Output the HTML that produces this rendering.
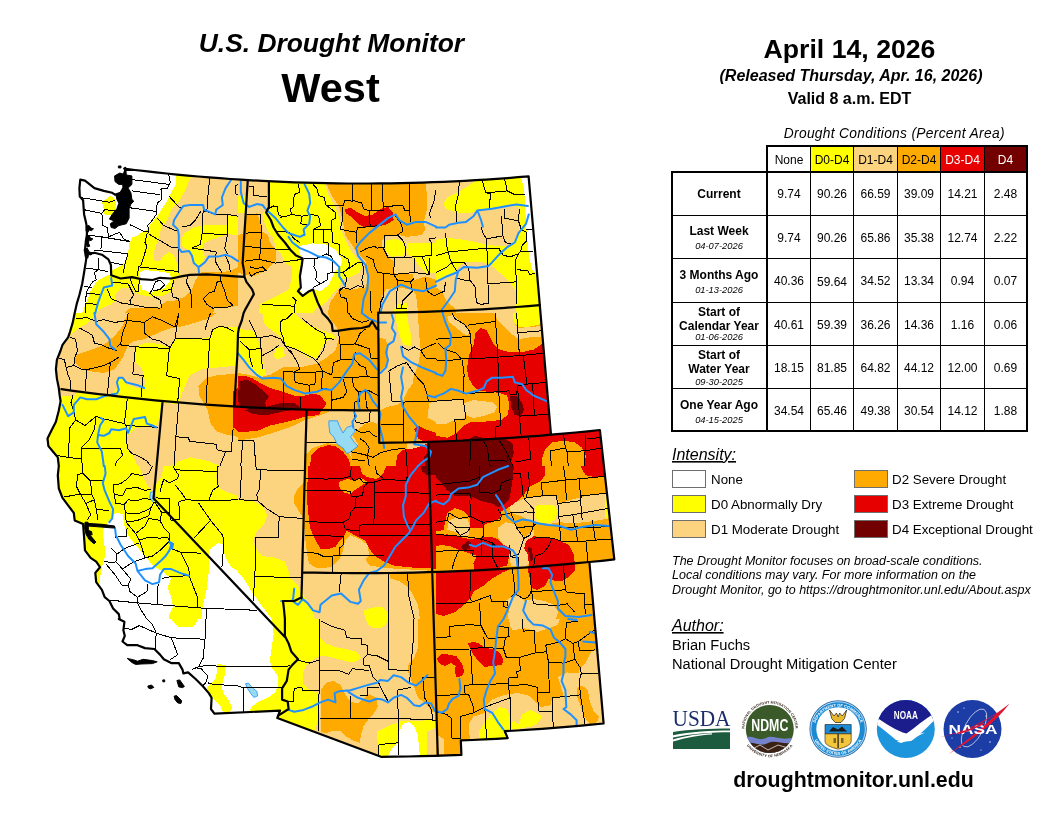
<!DOCTYPE html>
<html lang="en"><head><meta charset="utf-8"><title>U.S. Drought Monitor - West</title>
<style>
html,body{margin:0;padding:0;background:#fff;}
body{width:1056px;height:816px;overflow:hidden;font-family:"Liberation Sans",Arial,sans-serif;}
svg{display:block;position:absolute;left:0;top:0;}
</style></head><body>
<svg width="1056" height="816" viewBox="0 0 1056 816">
<rect width="1056" height="816" fill="#fff"/>
<g id="map">
<defs><clipPath id="land"><path d="M124.2 168.7L134.8 170.0L145.4 171.2L156.0 172.4L166.6 173.5L177.2 174.6L187.8 175.6L198.5 176.5L209.1 177.4L219.7 178.2L230.4 179.0L241.0 179.7L251.7 180.3L262.3 180.9L273.0 181.4L283.6 181.9L294.3 182.3L304.9 182.6L315.6 182.9L326.2 183.2L336.9 183.3L347.6 183.5L358.2 183.5L368.9 183.5L379.6 183.4L390.2 183.3L400.9 183.1L411.5 182.9L422.2 182.6L432.9 182.2L443.5 181.8L454.2 181.3L464.8 180.8L475.5 180.2L486.1 179.6L496.7 178.8L507.4 178.1L518.0 177.2L528.6 176.3L528.6 176.3L530.0 192.4L531.4 208.4L532.8 224.5L534.2 240.6L535.6 256.7L537.0 272.8L538.4 288.9L539.8 305.1L541.2 321.3L542.6 337.5L544.0 353.7L545.4 369.9L546.8 386.1L548.2 402.3L549.6 418.5L551.0 434.7L551.0 434.7L563.2 433.6L575.4 432.5L587.7 431.3L599.9 430.0L599.9 430.0L601.7 446.1L603.5 462.3L605.3 478.5L607.1 494.7L608.9 510.9L610.7 527.1L612.5 543.3L614.3 559.4L614.3 559.4L601.8 560.8L589.4 562.0L589.4 562.0L590.8 578.2L592.3 594.4L593.7 610.6L595.1 626.8L596.6 642.9L598.0 659.1L599.4 675.2L600.8 691.3L602.2 707.4L603.6 723.5L603.6 723.5L591.3 724.7L578.9 725.8L566.6 726.9L554.2 727.9L541.9 728.8L529.5 729.7L517.1 730.5L504.8 731.2L507.7 738.1L507.7 738.1L496.0 738.8L484.2 739.4L472.5 740.0L460.8 740.4L460.8 740.4L461.4 754.9L461.4 754.9L448.0 755.4L434.6 755.9L421.2 756.2L407.8 756.5L394.4 756.7L381.0 756.8L277.3 718.0L280.0 710.6L214.4 713.7L211.0 709.0L211.6 697.8L208.8 693.1L203.1 686.5L195.6 679.0L188.1 672.4L183.4 673.4L182.5 669.6L178.8 663.1L171.2 663.1L163.8 659.3L160.0 654.6L154.4 649.0L145.0 648.1L137.5 645.2L127.2 645.2L122.5 641.5L124.8 635.9L123.4 630.2L124.4 621.8L118.8 619.0L119.7 619.0L118.8 614.1L113.1 608.5L109.4 601.0L104.7 597.2L101.9 589.8L96.2 582.2L95.3 572.9L100.0 567.2L96.2 561.6L90.6 557.9L85.0 550.4L84.1 537.2L83.1 524.1L74.7 520.4L73.8 512.9L68.1 505.4L62.5 497.9L58.8 488.5L57.8 475.4L58.8 466.0L58.8 466.0L57.8 457.4L53.1 451.8L48.4 446.1L47.5 438.6L51.2 431.1L55.9 421.8L58.8 410.5L60.6 401.1L59.7 395.5L58.8 388.0L56.9 378.6L55.9 369.2L56.9 359.9L60.6 350.5L62.5 344.9L68.1 337.4L70.0 331.8L72.8 322.4L74.7 313.0L74.7 313.0L76.6 304.4L79.4 295.0L82.2 283.8L84.1 272.5L85.9 261.2L86.9 253.8L85.0 250.0L85.9 240.6L86.9 235.0L86.9 227.5L85.9 221.9L84.1 214.4L83.1 200.3L79.8 196.6L79.4 188.1L80.3 179.7L85.0 180.6L94.4 188.1L103.8 190.9L112.2 192.8L115.0 194.7L120.6 192.8L123.4 188.1L125.3 178.8L125.3 167.9Z"/></clipPath>
<clipPath id="t0"><rect x="40" y="160" width="198" height="153"/></clipPath>
<clipPath id="t1"><rect x="238" y="160" width="198" height="153"/></clipPath>
<clipPath id="t2"><rect x="436" y="160" width="198" height="153"/></clipPath>
<clipPath id="t3"><rect x="40" y="313" width="198" height="153"/></clipPath>
<clipPath id="t4"><rect x="238" y="313" width="198" height="153"/></clipPath>
<clipPath id="t5"><rect x="436" y="313" width="198" height="153"/></clipPath>
<clipPath id="t6"><rect x="40" y="466" width="198" height="153"/></clipPath>
<clipPath id="t7"><rect x="238" y="466" width="198" height="153"/></clipPath>
<clipPath id="t8"><rect x="436" y="466" width="198" height="153"/></clipPath>
<clipPath id="t9"><rect x="40" y="619" width="198" height="153"/></clipPath>
<clipPath id="t10"><rect x="238" y="619" width="198" height="153"/></clipPath>
<clipPath id="t11"><rect x="436" y="619" width="198" height="153"/></clipPath>
</defs>
<g clip-path="url(#land)" shape-rendering="crispEdges">
<g clip-path="url(#t0)">
<rect x="40" y="160" width="198" height="153" fill="#fcd37f"/>
<path d="M40.0 160.0L190.9 160.0L190.9 176.9L184.4 191.9L179.7 200.3L171.2 209.7L167.5 220.0L160.9 228.4L160.0 235.0L156.2 244.4L153.4 253.8L154.4 260.3L160.0 261.2L163.8 255.6L169.4 251.9L174.1 255.6L177.8 265.0L178.8 274.4L174.1 280.0L172.2 291.2L161.9 295.9L152.5 296.9L141.2 295.0L133.8 291.2L129.1 287.5L120.6 288.4L115.0 295.0L115.9 300.6L111.2 304.4L101.9 308.1L96.2 313.0L40.0 313.0Z" fill="#ffff00"/>
<path d="M184.4 233.1L193.8 227.5L201.2 225.6L227.5 224.7L228.4 233.1L220.0 236.9L208.8 240.6L203.1 244.4L202.2 250.0L205.0 257.5L201.2 265.0L195.6 265.0L191.9 257.5L188.1 250.0L182.5 246.2L181.6 238.8Z" fill="#ffff00"/>
<path d="M228.4 216.2L238.0 214.4L238.0 235.0L227.5 234.1Z" fill="#ffff00"/>
<path d="M40.0 160.0L175.9 160.0L175.9 184.4L171.2 192.8L167.5 200.3L161.9 208.8L157.2 216.2L150.6 223.8L146.9 229.4L139.4 234.1L131.9 237.8L129.1 243.4L128.1 253.8L125.3 262.2L118.8 266.9L112.2 270.6L110.3 274.4L105.6 276.2L96.2 281.9L90.6 291.2L86.9 300.6L82.2 313.0L40.0 313.0Z" fill="#ffffff"/>
<path d="M139.4 272.5L145.0 270.2L156.2 271.0L169.4 273.1L171.2 277.2L169.4 281.9L163.8 288.4L156.2 291.2L148.8 292.2L142.2 289.4L139.4 281.9Z" fill="#ffffff"/>
<path d="M110.3 195.6L115.9 200.3L115.9 214.4L104.7 214.8L103.8 208.8L101.9 202.2Z" fill="#ffff00"/>
<path d="M238.0 266.9L231.2 270.6L220.0 272.5L208.8 271.6L201.2 272.5L195.6 280.0L191.9 289.4L184.4 296.9L175.0 300.6L167.5 300.6L161.9 304.4L160.0 308.1L145.0 308.1L130.0 308.1L124.4 313.0L238.0 313.0Z" fill="#ffaa00"/>
<path d="M214.4 308.1L238.0 306.2L238.0 313.0L213.4 313.0Z" fill="#fcd37f"/>
</g>
<g clip-path="url(#t1)">
<rect x="238" y="160" width="198" height="153" fill="#fcd37f"/>
<path d="M268.9 178.8L323.3 178.8L328.0 193.8L335.5 206.9L340.2 221.9L343.0 235.0L350.5 250.0L358.0 259.4L361.8 265.0L359.9 272.5L352.4 276.2L343.0 280.0L337.4 289.4L331.8 295.0L326.1 302.5L316.8 308.1L313.0 313.0L258.6 313.0L260.5 304.4L275.5 296.9L288.6 289.4L291.4 280.0L292.4 266.9L284.9 263.1L281.1 253.8L275.5 248.1L273.6 238.8L268.0 231.2L264.2 221.9L262.4 214.4L266.1 210.6L268.9 205.0Z" fill="#ffff00"/>
<path d="M238.0 195.6L246.4 195.6L247.4 212.5L238.0 212.5Z" fill="#ffff00"/>
<path d="M386.1 240.6L395.5 238.8L404.9 242.5L406.8 250.0L403.0 255.6L391.8 256.6L386.1 251.9Z" fill="#ffff00"/>
<path d="M406.8 243.4L436.0 242.5L436.0 272.5L425.5 272.5L418.0 265.0L414.2 257.5L406.8 253.8Z" fill="#ffff00"/>
<path d="M395.5 304.4L406.8 302.5L408.6 313.0L393.6 313.0Z" fill="#ffff00"/>
<path d="M298.0 246.2L313.0 243.4L326.1 244.4L335.5 250.0L342.1 259.4L341.1 265.0L335.5 270.6L331.8 278.1L328.0 285.6L320.5 291.2L313.0 289.4L307.4 293.1L302.7 294.1L298.9 289.4L300.8 276.2L302.7 261.2L299.9 253.8Z" fill="#ffffff"/>
<path d="M238.0 235.0L244.6 233.1L246.4 214.4L256.8 213.4L260.5 221.9L261.4 231.2L268.0 235.0L269.9 242.5L275.5 250.0L275.5 261.2L266.1 270.6L253.0 276.2L243.6 274.4L238.0 272.5Z" fill="#ffaa00"/>
<path d="M326.1 183.4L425.5 183.4L427.4 197.5L426.4 212.5L423.6 221.9L425.5 229.4L421.8 235.0L406.8 236.9L399.2 235.0L388.0 235.0L382.4 240.6L382.4 248.1L388.0 257.5L393.6 261.2L394.6 273.6L412.4 273.6L414.2 280.0L425.5 276.2L436.0 280.0L436.0 313.0L418.0 313.0L416.1 295.0L412.4 289.4L397.4 287.5L386.1 289.4L382.4 295.0L380.5 313.0L328.0 313.0L329.9 302.5L335.5 295.0L339.2 289.4L350.5 289.4L365.5 287.5L369.2 274.4L367.4 272.5L365.5 261.2L358.0 253.8L350.5 242.5L344.9 235.0L343.0 221.9L339.2 206.9L331.8 195.6Z" fill="#ffaa00"/>
<path d="M344.9 209.7L350.5 207.8L358.0 212.5L365.5 216.2L373.0 214.4L380.5 208.8L388.0 206.9L392.7 212.5L393.6 220.0L386.1 224.7L376.8 226.6L365.5 227.5L358.0 223.8L350.5 216.2L345.8 213.4Z" fill="#e60000"/>
</g>
<g clip-path="url(#t2)">
<rect x="436" y="160" width="198" height="153" fill="#fcd37f"/>
<path d="M443.5 203.1L447.2 197.5L458.5 191.9L473.5 182.5L482.9 178.8L527.9 175.9L529.8 206.9L522.2 206.9L507.2 205.9L492.2 208.8L477.2 210.6L469.8 213.4L456.6 212.5L445.4 208.8Z" fill="#ffff00"/>
<path d="M436.0 239.7L447.2 237.8L464.1 239.7L486.6 244.4L501.6 246.6L511.0 245.3L518.5 233.1L520.4 221.9L519.4 206.9L529.8 206.9L541.0 313.0L516.6 313.0L515.7 291.2L511.0 283.8L501.6 274.4L492.2 265.9L482.9 262.2L464.1 262.2L456.6 268.8L451.0 276.2L436.0 280.0Z" fill="#ffff00"/>
<path d="M520.8 176.5L528.2 175.9L536.3 274.4L531.6 268.8L528.8 253.8L526.9 235.0L525.6 216.2L524.1 188.1Z" fill="#ffffff"/>
<path d="M436.0 287.5L441.6 291.2L447.2 302.5L454.8 308.1L456.6 313.0L436.0 313.0Z" fill="#ffaa00"/>
</g>
<g clip-path="url(#t3)">
<rect x="40" y="313" width="198" height="153" fill="#ffff00"/>
<path d="M68.1 337.4L77.5 328.9L86.9 323.3L93.4 316.8L96.2 313.0L238.0 313.0L238.0 327.1L227.5 326.5L214.4 328.0L209.7 337.4L190.0 339.2L175.0 338.9L169.4 347.7L160.0 343.9L145.0 342.6L135.6 346.8L133.8 359.9L142.2 369.2L145.0 380.5L144.1 388.0L137.5 388.0L126.2 384.2L122.5 377.7L116.9 378.6L116.9 388.0L113.1 392.7L107.5 394.6L77.5 391.8L74.7 395.5L60.6 396.4L58.8 389.9L55.0 378.6L56.9 359.9L60.6 346.8Z" fill="#fcd37f"/>
<path d="M161.9 403.0L178.8 403.9L182.5 391.8L190.0 374.9L201.2 369.2L238.0 365.5L238.0 466.0L220.0 466.0L208.8 461.1L190.0 457.4L178.8 461.1L171.2 466.0L137.5 466.0L133.8 457.4L128.1 448.0L127.2 436.8L133.8 429.2L145.0 425.5L156.2 425.5L160.0 418.0Z" fill="#fcd37f"/>
<path d="M128.1 313.0L216.2 313.0L208.8 318.6L190.0 324.2L178.8 327.1L171.2 328.0L160.0 331.8L152.5 335.5L145.0 339.2L133.8 341.1L128.1 344.9L122.5 358.0L115.0 369.2L103.8 373.0L88.8 371.1L79.4 367.4L73.8 361.8L77.5 354.2L94.4 348.6L103.8 344.9L115.0 335.5L122.5 326.1Z" fill="#ffaa00"/>
<path d="M206.9 377.7L218.1 374.9L238.0 373.9L238.0 436.8L227.5 434.9L216.2 431.1L210.6 423.6L207.8 410.5L199.4 395.5L198.4 386.1Z" fill="#ffaa00"/>
<path d="M233.1 391.8L238.0 388.0L238.0 431.1L233.1 427.4Z" fill="#e60000"/>
</g>
<g clip-path="url(#t4)">
<rect x="238" y="313" width="198" height="153" fill="#fcd37f"/>
<path d="M238.0 328.9L254.9 330.8L258.6 341.1L262.4 361.8L266.1 374.9L258.6 376.8L249.2 365.5L238.0 356.1Z" fill="#ffff00"/>
<path d="M262.4 313.0L294.2 313.0L299.9 318.6L307.4 324.2L320.5 329.9L331.8 333.6L335.5 337.4L326.1 341.1L320.5 350.5L316.8 358.0L309.2 358.0L298.0 350.5L286.8 346.8L281.1 337.4L273.6 331.8L264.2 324.2Z" fill="#ffff00"/>
<path d="M275.5 348.6L283.0 346.8L284.9 356.1L277.4 359.9L273.6 356.1Z" fill="#ffff00"/>
<path d="M395.5 313.0L406.8 313.0L408.6 324.2L411.4 337.4L410.5 345.8L403.0 344.9L399.2 333.6L396.4 322.4Z" fill="#ffff00"/>
<path d="M328.0 313.0L376.8 313.0L377.7 337.4L386.1 339.2L388.0 350.5L386.1 365.5L378.6 373.0L377.7 393.6L377.7 410.5L331.8 410.5L320.5 415.2L305.5 419.9L294.2 425.5L275.5 432.1L256.8 437.7L238.0 440.5L238.0 373.0L249.2 374.9L258.6 377.7L269.9 374.9L283.0 367.4L299.9 367.4L316.8 363.6L326.1 358.0L335.5 350.5L339.2 337.4L337.4 328.0L329.9 318.6Z" fill="#ffaa00"/>
<path d="M378.6 442.4L378.6 425.5L373.0 421.8L365.5 423.6L358.0 429.2L352.4 434.9L358.0 444.2L350.5 451.8L354.2 466.0L406.8 466.0L406.8 442.4Z" fill="#ffaa00"/>
<path d="M303.6 466.0L304.6 455.5L313.0 448.0L326.1 443.3L337.4 444.2L346.8 449.9L352.4 459.2L354.2 466.0Z" fill="#ffaa00"/>
<path d="M418.0 313.0L436.0 313.0L436.0 401.1L429.2 403.0L427.4 418.0L436.0 421.8L436.0 442.4L379.9 442.4L379.9 410.5L388.0 406.8L397.4 404.9L403.0 401.1L406.8 391.8L412.4 384.2L414.2 374.9L418.0 365.5L420.8 350.5L418.9 331.8Z" fill="#ffaa00"/>
<path d="M238.0 375.8L245.5 375.8L253.0 378.6L260.5 383.3L269.9 388.0L283.0 391.8L294.2 395.5L301.8 396.4L313.0 393.6L320.5 395.5L326.1 403.0L325.2 406.8L321.4 410.5L318.6 415.2L307.4 416.1L294.2 419.9L283.0 422.7L269.9 425.5L256.8 431.1L238.0 432.1Z" fill="#e60000"/>
<path d="M238.9 381.4L247.4 379.6L256.8 385.2L264.2 391.8L268.9 396.4L265.2 402.1L266.1 406.8L249.2 407.7L239.9 405.8L238.0 401.1Z" fill="#730000"/>
<path d="M266.1 406.8L283.0 402.6L294.2 403.0L299.9 406.8L300.8 409.6L284.9 410.9L275.5 413.3L266.1 415.2L253.0 414.2L245.5 410.5L249.2 407.7Z" fill="#730000"/>
<path d="M311.1 455.5L318.6 448.0L328.0 445.2L335.5 446.1L343.0 451.8L348.6 459.2L350.5 466.0L310.2 466.0Z" fill="#e60000"/>
<path d="M395.5 466.0L397.4 455.5L403.0 449.9L416.1 448.0L425.5 444.2L436.0 442.4L436.0 466.0Z" fill="#e60000"/>
<path d="M414.2 429.2L418.0 425.5L425.5 429.2L436.0 433.0L436.0 442.4L425.5 442.4L418.0 438.6Z" fill="#e60000"/>
<path d="M429.2 442.4L436.0 442.4L436.0 466.0L425.5 466.0L423.6 457.4L429.2 451.8Z" fill="#730000"/>
</g>
<g clip-path="url(#t5)">
<rect x="436" y="313" width="198" height="153" fill="#ffaa00"/>
<path d="M447.2 316.8L452.9 314.9L460.4 322.4L467.9 328.0L470.7 333.6L466.0 335.5L456.6 328.0L449.1 322.4Z" fill="#fcd37f"/>
<path d="M494.1 313.0L512.9 313.0L514.8 324.2L518.5 328.0L541.0 326.1L541.0 337.4L529.8 337.4L518.5 339.2L511.0 333.6L503.5 326.1L497.9 320.5Z" fill="#fcd37f"/>
<path d="M512.9 313.0L540.1 313.0L540.1 324.2L527.9 327.1L518.5 327.1L513.8 322.4Z" fill="#ffff00"/>
<path d="M436.0 400.2L464.1 399.2L466.0 418.0L454.8 419.9L447.2 423.6L436.0 423.6Z" fill="#fcd37f"/>
<path d="M464.1 403.0L473.5 400.2L492.2 402.1L496.9 406.8L494.1 412.4L482.9 416.1L473.5 418.0L466.0 415.2Z" fill="#fcd37f"/>
<path d="M480.1 328.0L486.6 329.9L490.4 337.4L494.1 344.9L499.8 349.6L511.0 352.4L520.4 352.4L533.5 349.6L543.8 343.0L552.2 429.2L601.0 429.2L606.6 466.0L584.1 466.0L586.0 455.5L582.2 448.0L574.8 442.4L563.5 440.5L552.2 442.4L544.8 449.9L541.9 459.2L541.9 466.0L436.0 466.0L436.0 435.8L447.2 437.7L456.6 433.0L464.1 425.5L471.6 421.8L482.9 421.8L501.6 419.9L508.2 414.2L509.1 403.0L507.2 395.5L497.9 392.7L479.1 390.8L473.5 386.1L468.8 378.6L466.9 369.2L468.8 356.1L473.5 344.9L475.4 333.6Z" fill="#e60000"/>
<path d="M510.1 396.4L516.6 395.5L522.2 403.0L524.1 410.5L520.4 416.1L514.8 415.2L511.0 406.8Z" fill="#730000"/>
<path d="M436.0 442.4L454.8 440.5L469.8 438.6L475.4 435.8L482.9 437.7L496.0 438.6L507.2 439.6L512.9 444.2L513.8 453.6L511.0 461.1L512.9 466.0L436.0 466.0Z" fill="#730000"/>
</g>
<g clip-path="url(#t6)">
<rect x="40" y="466" width="198" height="153" fill="#ffff00"/>
<path d="M115.0 512.9L122.5 513.8L124.4 526.0L128.1 535.4L133.8 542.9L145.0 556.0L152.5 565.4L161.9 571.0L171.2 578.5L167.5 587.9L171.2 597.2L173.1 606.6L169.4 614.1L169.4 619.0L96.2 619.0L98.1 597.2L100.0 578.5L101.9 567.2L105.6 554.1L103.8 541.0L102.8 529.8L109.4 520.4Z" fill="#ffffff"/>
<path d="M208.8 550.4L218.1 542.9L223.8 544.8L224.7 556.0L231.2 567.2L238.0 571.0L238.0 619.0L201.2 619.0L203.1 604.8L206.9 587.9L208.8 571.0Z" fill="#ffffff"/>
<path d="M139.4 466.0L163.8 466.0L161.9 475.4L156.2 484.8L152.5 492.2L146.9 484.8L142.2 475.4Z" fill="#fcd37f"/>
<path d="M218.1 466.0L238.0 466.0L238.0 496.0L227.5 492.2L220.0 488.5L216.2 477.2Z" fill="#fcd37f"/>
</g>
<g clip-path="url(#t7)">
<rect x="238" y="466" width="198" height="153" fill="#fcd37f"/>
<path d="M238.0 499.8L253.0 500.7L262.4 506.3L267.1 514.8L264.2 524.1L256.8 531.6L253.0 541.0L255.8 548.5L262.4 556.0L275.5 557.9L284.9 561.6L288.6 571.0L290.5 578.5L298.0 586.0L303.6 595.4L313.0 612.2L314.9 619.0L268.0 619.0L256.8 601.0L249.2 589.8L238.0 586.0Z" fill="#ffff00"/>
<path d="M238.0 572.9L243.6 578.5L253.0 593.5L262.4 606.6L271.8 619.0L238.0 619.0Z" fill="#ffffff"/>
<path d="M363.6 610.4L373.0 607.6L382.4 606.6L388.0 612.2L388.0 619.0L365.5 619.0Z" fill="#ffff00"/>
<path d="M296.1 466.0L303.6 466.0L303.6 482.9L298.0 488.5L294.2 496.0L294.2 503.5L299.9 512.9L303.6 518.5L304.6 529.8L305.5 541.0L307.4 556.0L309.2 563.5L316.8 568.2L331.8 567.2L339.2 559.8L343.0 550.4L344.9 541.0L350.5 535.4L359.9 539.1L367.4 544.8L369.2 554.1L365.5 559.8L369.2 565.4L380.5 567.2L388.0 568.2L436.0 571.0L436.0 466.0Z" fill="#ffaa00"/>
<path d="M388.9 572.9L436.0 572.9L436.0 619.0L419.9 619.0L418.0 604.8L412.4 593.5L406.8 586.0L399.2 581.3L390.8 578.5Z" fill="#ffaa00"/>
<path d="M308.3 466.0L436.0 466.0L436.0 568.8L406.8 567.2L393.6 565.4L384.2 561.6L374.9 556.0L369.2 548.5L365.5 541.0L358.0 537.2L346.8 530.7L343.0 537.2L339.2 541.0L335.5 546.6L328.0 549.4L320.5 548.5L316.8 542.9L313.0 535.4L310.2 527.9L309.2 522.2L307.4 503.5L307.4 484.8Z" fill="#e60000"/>
<path d="M359.9 466.0L386.1 466.0L383.3 473.5L376.8 479.1L367.4 477.2L361.8 473.5Z" fill="#ffaa00"/>
<path d="M339.2 481.9L346.8 479.1L354.2 480.1L361.8 478.2L367.4 481.9L359.9 486.6L354.2 490.4L350.5 494.1L343.0 492.2L339.2 486.6Z" fill="#ffaa00"/>
<path d="M420.8 466.0L436.0 466.0L436.0 475.4L427.4 475.4L421.8 471.6Z" fill="#730000"/>
</g>
<g clip-path="url(#t8)">
<rect x="436" y="466" width="198" height="153" fill="#ffaa00"/>
<path d="M524.1 498.8L533.5 496.9L556.0 496.0L559.8 503.5L571.0 499.8L582.2 496.9L595.4 494.1L604.8 494.1L608.5 518.5L597.2 520.4L586.0 522.2L571.0 523.2L559.8 522.2L548.5 524.1L537.2 522.2L529.8 520.4L522.2 516.6L511.0 512.9L509.1 507.2L516.6 501.6Z" fill="#fcd37f"/>
<path d="M535.4 506.3L541.0 504.4L554.1 505.4L557.9 511.0L556.0 518.5L550.4 523.2L541.0 523.2L535.4 518.5Z" fill="#ffff00"/>
<path d="M604.8 494.1L607.6 494.1L609.4 518.5L604.8 517.6Z" fill="#ffff00"/>
<path d="M497.9 527.9L505.4 522.2L514.8 524.1L520.4 531.6L524.1 537.2L529.8 533.5L533.5 529.8L533.5 537.2L526.0 541.0L524.1 548.5L527.9 554.1L528.8 563.5L524.1 568.2L518.5 567.2L511.0 565.4L509.1 556.0L511.0 548.5L503.5 544.8L497.9 537.2Z" fill="#fcd37f"/>
<path d="M449.1 520.4L456.6 517.6L467.9 519.4L469.8 526.0L468.8 535.4L462.2 537.2L454.8 531.6L447.2 529.8Z" fill="#fcd37f"/>
<path d="M505.4 601.0L511.0 597.2L518.5 595.4L524.1 601.0L533.5 599.1L544.8 601.0L554.1 604.8L557.9 612.2L556.0 619.0L507.2 619.0L509.1 610.4Z" fill="#fcd37f"/>
<path d="M436.0 466.0L544.8 466.0L544.8 475.4L541.0 481.0L529.8 486.6L524.1 494.1L516.6 501.6L509.1 507.2L501.6 511.0L499.8 518.5L492.2 522.2L484.8 524.1L482.9 527.9L469.8 527.9L469.8 518.5L464.1 511.0L454.8 508.2L447.2 512.9L445.4 520.4L443.5 529.8L436.0 531.6Z" fill="#e60000"/>
<path d="M580.4 466.0L605.7 466.0L605.7 477.2L595.4 477.2L586.0 475.4L582.2 469.8Z" fill="#e60000"/>
<path d="M436.0 535.4L447.2 534.4L460.4 537.2L469.8 539.1L482.9 537.2L492.2 537.2L497.9 539.1L503.5 544.8L511.0 548.5L509.1 556.0L507.2 565.4L497.9 568.2L473.5 570.1L473.5 563.5L477.2 556.0L471.6 554.1L460.4 550.4L451.0 546.6L441.6 544.8L436.0 546.6Z" fill="#e60000"/>
<path d="M526.0 541.0L533.5 536.3L544.8 537.2L552.2 538.2L559.8 541.0L569.1 544.8L573.8 554.1L574.8 563.5L574.8 571.0L569.1 576.6L563.5 580.4L556.0 581.3L548.5 578.5L544.8 586.0L537.2 589.8L531.6 587.9L529.8 578.5L527.9 571.0L528.8 563.5L527.9 554.1L524.1 548.5Z" fill="#e60000"/>
<path d="M436.0 571.0L473.5 570.1L497.9 568.2L511.0 568.8L501.6 572.9L492.2 578.5L482.9 586.0L473.5 591.6L469.8 599.1L464.1 604.8L454.8 612.2L443.5 616.0L436.0 614.1Z" fill="#e60000"/>
<path d="M436.0 466.0L513.8 466.0L512.9 477.2L511.0 490.4L509.1 499.8L503.5 505.4L497.9 507.2L492.2 503.5L482.9 501.6L469.8 496.0L454.8 496.0L447.2 490.4L439.8 481.0L436.0 477.2Z" fill="#730000"/>
<path d="M460.4 546.6L467.9 541.0L471.6 542.9L469.8 548.5L464.1 550.4Z" fill="#730000"/>
<path d="M527.9 546.6L531.6 548.5L533.5 559.8L530.7 561.6L528.8 554.1Z" fill="#730000"/>
</g>
<g clip-path="url(#t9)">
<rect x="40" y="619" width="198" height="153" fill="#ffffff"/>
<path d="M171.2 619.0L197.5 619.0L195.6 624.6L191.9 627.4L178.8 627.4L174.1 622.8Z" fill="#ffff00"/>
<path d="M217.2 664.0L225.6 664.9L224.7 675.2L221.9 684.6L222.8 692.1L229.4 701.5L232.2 707.1L230.3 711.8L222.8 711.8L220.0 705.2L214.4 699.6L209.7 694.0L206.9 687.4L210.6 683.7L215.3 679.0L217.2 671.5Z" fill="#ffff00"/>
</g>
<g clip-path="url(#t10)">
<rect x="238" y="619" width="198" height="153" fill="#fcd37f"/>
<path d="M271.8 619.0L318.6 619.0L318.6 630.2L320.5 637.8L326.1 643.4L335.5 647.1L350.5 649.9L358.0 652.8L360.8 657.4L358.0 661.2L350.5 662.1L339.2 659.3L328.0 656.5L320.5 655.6L313.0 659.3L305.5 665.9L302.7 675.2L303.6 684.6L309.2 690.2L316.8 692.1L319.6 697.8L319.6 712.8L316.8 724.0L313.9 731.5L275.5 720.2L262.4 711.8L249.2 711.8L251.1 707.1L258.6 701.5L268.0 697.8L275.5 692.1L278.3 684.6L277.4 675.2L271.8 667.8L269.9 660.2L271.8 647.1L273.6 634.0Z" fill="#ffff00"/>
<path d="M238.0 619.0L271.8 619.0L273.6 634.0L271.8 647.1L269.9 660.2L271.8 667.8L277.4 675.2L278.3 684.6L275.5 692.1L268.0 697.8L258.6 701.5L251.1 707.1L249.2 711.8L238.0 712.8Z" fill="#ffffff"/>
<path d="M365.5 619.0L388.0 619.0L386.1 624.6L380.5 628.4L373.0 628.4L368.3 624.6Z" fill="#ffff00"/>
<path d="M376.8 731.5L384.2 727.8L393.6 724.0L399.2 721.2L436.0 720.2L436.0 755.9L378.6 755.9L377.7 742.8Z" fill="#ffff00"/>
<path d="M399.2 731.5L403.0 724.0L408.6 722.1L414.2 725.9L418.0 735.2L418.9 746.5L419.9 755.9L388.0 755.9L391.8 748.4L397.4 742.8Z" fill="#ffffff"/>
<path d="M427.4 731.5L436.0 727.8L436.0 755.9L427.4 755.9Z" fill="#fcd37f"/>
<path d="M320.5 690.2L326.1 682.8L333.6 680.9L340.2 684.6L344.9 694.0L350.5 701.5L358.0 703.4L369.2 694.0L376.8 697.8L377.7 707.1L373.0 714.6L369.2 718.4L320.5 718.4Z" fill="#ffaa00"/>
<path d="M320.5 718.4L369.2 718.4L363.6 725.9L360.8 735.2L359.9 742.8L354.2 740.9L346.8 737.1L341.1 731.5L333.6 730.6L326.1 733.4L320.5 731.5Z" fill="#ffaa00"/>
<path d="M418.0 619.0L436.0 619.0L436.0 709.0L433.0 712.8L425.5 703.4L418.0 697.8L412.4 682.8L407.7 671.5L408.6 664.0L414.2 658.4L418.0 647.1Z" fill="#ffaa00"/>
</g>
<g clip-path="url(#t11)">
<rect x="436" y="619" width="198" height="153" fill="#ffaa00"/>
<path d="M509.1 619.0L559.8 619.0L557.9 624.6L548.5 628.4L537.2 632.1L533.5 630.2L524.1 628.4L512.9 630.2L510.1 626.5Z" fill="#fcd37f"/>
<path d="M591.6 650.9L597.2 650.9L602.9 725.9L511.0 731.5L507.2 739.0L469.8 739.0L468.8 724.0L473.5 716.5L484.8 712.8L486.6 705.2L492.2 699.6L501.6 695.9L509.1 694.0L518.5 693.1L529.8 695.9L537.2 703.4L541.0 707.1L550.4 705.2L552.2 697.8L563.5 695.9L559.8 682.8L557.9 677.1L567.2 672.4L578.5 673.4L580.4 667.8L586.0 662.1Z" fill="#fcd37f"/>
<path d="M576.6 688.4L582.2 685.6L587.9 690.2L589.8 701.5L593.5 710.9L599.1 716.5L597.2 722.1L589.8 724.0L584.1 716.5L580.4 705.2L576.6 695.9Z" fill="#ffaa00"/>
<path d="M437.9 735.2L443.5 739.0L443.5 754.0L437.9 754.0Z" fill="#fcd37f"/>
<path d="M479.1 731.5L486.6 720.2L492.2 712.8L499.8 707.1L507.2 709.0L510.1 718.4L511.0 729.6L503.5 731.5L507.2 739.0L479.1 739.0Z" fill="#ffff00"/>
<path d="M511.0 729.6L512.9 720.2L518.5 724.0L522.2 714.6L529.8 709.9L537.2 712.8L541.9 716.5L537.2 724.0L529.8 726.8L518.5 728.7Z" fill="#ffff00"/>
<path d="M467.9 643.4L473.5 641.5L479.1 643.4L484.8 648.1L494.1 649.0L499.8 652.8L503.5 660.2L501.6 664.9L494.1 665.9L484.8 666.8L479.1 662.1L473.5 654.6L470.7 649.0Z" fill="#e60000"/>
<path d="M436.9 658.4L441.6 653.7L449.1 654.6L456.6 656.5L462.2 664.0L464.1 671.5L462.2 676.2L456.6 677.1L454.8 671.5L455.7 665.9L451.0 663.1L445.4 665.9L439.8 664.0Z" fill="#e60000"/>
</g>
</g>
<g fill="#97dbf2" stroke="#1e90ff" stroke-width="0.8">
<path d="M328.9 420.8L337.4 420.8L339.2 425.5L343.0 433.0L346.8 427.4L352.4 425.5L355.2 431.1L350.5 436.8L354.2 442.4L358.0 446.1L350.5 451.8L346.8 453.6L343.0 448.0L337.4 444.2L333.6 436.8L329.9 433.0L328.9 425.5Z"/>
<path d="M150.6 492.2L154.4 491.3L155.3 497.9L152.5 501.6L149.7 497.9Z"/>
<path d="M245.5 683.7L248.3 683.1L253.0 688.4L256.8 691.2L257.7 695.9L253.9 697.4L251.1 694.0L247.4 688.4Z"/>
</g>
<g fill="none" stroke="#000" stroke-width="1" stroke-linejoin="round" clip-path="url(#land)" shape-rendering="crispEdges">
<path d="M125.3 178.8L169.4 184.4M131.9 190.9L160.0 194.7M130.0 207.8L157.2 211.6M130.0 224.7L143.1 231.2L148.8 232.2M168.4 173.1L170.3 182.5L167.5 188.1L160.9 189.1L161.9 199.4L157.2 203.1L156.2 214.4L152.5 220.0L147.8 225.6L148.8 232.2L146.9 234.1L145.0 242.5L146.9 246.2L144.1 255.6L141.2 265.0L138.4 266.9L137.5 276.2M80.3 197.5L109.4 202.2L115.0 200.3M84.1 209.7L101.9 213.4L104.7 209.7L115.0 210.6M101.9 213.4L102.8 225.6L107.5 227.5L108.4 236.9M86.9 235.0L101.9 236.9L130.0 241.6M101.9 236.9L100.9 249.1M94.4 250.0L128.1 253.8M128.1 253.8L125.3 262.2L123.4 272.5M108.4 236.9L119.7 232.2L123.4 238.8L130.0 241.6M110.3 262.2L123.4 265.0M169.4 196.6L178.8 206.9L182.5 207.8M157.2 218.1L163.8 225.6L175.0 230.3L178.8 231.2M148.8 234.1L160.0 240.6L171.2 247.2L178.8 248.1M139.4 266.9L178.8 271.6M178.8 248.1L178.8 272.5M209.7 177.8L207.8 197.5L206.9 210.6M201.2 210.6L195.6 220.0L190.0 225.6L181.6 226.6M203.1 210.6L202.2 233.1L200.3 244.4L191.9 248.1M202.2 233.1L227.5 235.0M227.5 214.4L227.5 235.0L224.7 248.1L227.5 253.8M203.1 210.6L216.2 214.4L227.5 214.4L238.0 216.2M191.9 248.1L216.2 251.9M216.2 251.9L215.3 261.2L217.2 265.0L221.9 272.5M225.6 255.6L229.4 265.0L230.3 272.5M238.0 184.4L235.0 186.2L235.9 193.8L238.0 194.7M98.1 257.5L98.1 269.7L94.4 272.5M85.0 267.8L98.1 269.7L107.5 271.6M94.4 272.5L96.2 280.0L92.5 281.9L86.9 291.2L85.0 302.5L85.0 313.0M84.1 286.6L92.5 287.5M86.9 293.1L96.2 294.1L100.0 295.0M85.9 303.4L98.1 304.4M111.2 281.9L128.1 283.8L131.9 291.2L133.8 295.0L130.0 300.6L130.9 304.4M107.5 289.4L111.2 298.8L122.5 303.4L130.9 304.4L145.0 307.2L160.0 308.1M130.0 278.1L131.9 283.8L135.6 291.2L138.4 291.2L139.4 280.0M149.7 293.1L152.5 289.4L155.3 281.9L160.0 280.0L164.7 284.7L160.0 289.4L152.5 291.2M149.7 293.1L154.4 296.9L160.0 299.7L161.9 308.1M161.9 291.2L171.2 289.4L174.1 280.0M171.2 289.4L173.1 296.9L178.8 298.8L179.7 308.1M188.1 275.3L186.2 281.9L190.0 289.4L191.9 298.8L191.9 308.1M203.1 298.8L208.8 293.1L214.4 291.2L217.2 281.9L220.9 280.9L224.7 291.2L227.5 300.6L233.1 305.3M203.1 298.8L206.9 304.4L212.5 308.1L227.5 307.2L233.1 305.3M220.9 275.3L220.9 280.9M249.2 186.2L253.0 186.2L253.0 195.6L267.1 196.6M247.4 214.4L260.5 214.4M246.4 233.1L261.4 232.2M260.5 214.4L261.4 232.2L260.5 248.1L259.6 259.4M245.5 246.2L260.5 248.1L290.5 250.0M244.6 261.2L256.8 259.4L259.6 259.4L275.5 263.1L301.8 259.4M250.2 266.9L256.8 268.8L262.4 266.9L266.1 270.6L256.8 272.5L251.1 276.2L249.2 272.5M262.4 304.4L294.2 306.2L294.2 313.0M294.2 306.2L296.1 300.6L292.4 296.9M298.0 184.4L299.9 191.9L294.2 194.7L293.3 206.9L290.5 208.8L291.4 214.4L286.8 216.2L282.1 216.2L280.2 218.1M268.0 208.8L273.6 205.9L277.4 206.9L278.3 214.4L283.0 217.2M291.4 214.4L301.8 216.2L311.1 214.4L318.6 216.2L320.5 225.6L313.0 229.4L313.9 242.5M301.8 216.2L300.8 223.8L307.4 224.7M313.0 184.4L316.8 188.1L318.6 195.6L324.2 197.5L326.1 205.0L335.5 212.5L335.5 218.1L331.8 220.0L331.8 229.4L332.7 242.5L339.2 244.4L339.2 253.8L348.6 259.4L349.6 266.9L343.0 272.5M326.1 205.0L343.0 205.9L344.9 200.3L352.4 201.2L352.4 184.4M352.4 200.3L361.8 203.1L363.6 208.8L369.2 210.6L370.2 226.6M371.1 184.4L371.1 210.6M382.4 184.4L383.3 210.6L369.2 210.6M383.3 206.9L393.6 205.9L403.0 205.9L404.9 210.6L409.6 210.6L409.6 184.4M343.0 206.9L342.1 221.9L340.2 229.4L356.1 232.2L358.0 227.5L370.2 226.6L378.6 225.6M356.1 232.2L356.1 242.5M313.9 229.4L331.8 229.4M323.3 229.4L323.3 242.5L328.0 242.5L328.0 253.8M276.4 231.2L288.6 232.2L294.2 238.8L299.9 242.5M303.6 258.4L316.8 258.4L326.1 253.8L331.8 256.6L332.7 261.2L332.7 272.5L328.0 273.4L327.1 280.0L320.5 283.8L313.0 287.5M314.9 259.4L313.9 266.9L316.8 272.5L315.8 280.0L320.5 283.8M332.7 272.5L343.0 272.5L358.0 262.2L362.7 262.2M343.0 272.5L346.8 278.1L344.9 287.5L339.2 289.4M362.7 262.2L363.6 272.5L361.8 280.0L363.6 287.5L358.0 285.6L350.5 289.4L343.0 287.5L339.2 291.2L341.1 296.9L346.8 298.8L347.7 313.0M365.5 255.6L373.0 259.4L374.9 266.9L377.7 272.5L393.6 274.4M359.9 251.9L367.4 248.1L374.9 246.2L376.8 248.1L384.2 247.2L384.2 235.0L397.4 235.0M397.4 235.0L403.0 240.6L405.8 248.1L404.9 257.5L394.6 257.5L388.0 257.5L383.3 248.1M404.9 257.5L431.1 255.6L431.1 242.5L429.2 238.8L436.0 237.8M394.6 257.5L393.6 274.4L414.2 272.5L414.2 257.5M414.2 272.5L429.2 274.4L429.2 257.5M421.8 255.6L425.5 265.0L429.2 274.4M383.3 274.4L383.3 296.9L380.5 302.5L379.6 313.0M370.2 291.2L371.1 313.0M393.6 274.4L397.4 280.0L396.4 308.1L406.8 308.1M397.4 280.0L410.5 281.9L414.2 278.1M410.5 281.9L412.4 291.2L403.0 300.6L401.1 308.1M425.5 278.1L427.4 291.2L433.0 295.0L436.0 295.0M409.6 210.6L410.5 221.9M436.0 190.0L433.9 201.2L429.2 214.4L431.1 218.1M395.5 216.2L401.1 223.8L403.0 231.2L397.4 235.0M459.4 179.7L458.5 193.8L455.7 205.0L456.6 221.9M481.9 178.8L485.7 192.8L490.4 193.8L489.4 208.8M485.7 192.8L507.2 190.9M504.4 177.8L507.2 190.9L514.8 194.7L525.1 194.7M504.4 208.8L504.4 218.1L518.5 220.9L519.4 208.8M501.6 216.2L502.6 235.0L505.4 242.5L512.9 244.4M481.0 226.6L482.9 233.1L486.6 238.8L502.6 235.9M486.6 238.8L487.6 266.9M445.4 233.1L447.2 248.1L450.1 259.4L452.9 265.0L456.6 270.6M436.0 255.6L449.1 251.9L487.6 248.1L498.8 248.1L500.7 251.9M500.7 251.9L503.5 255.6L511.0 256.6L518.5 253.8L520.4 251.9L527.9 251.9L533.5 250.9M518.5 220.9L521.3 229.4L526.0 232.2L526.9 240.6L522.2 245.3L520.4 251.9M526.0 229.4L531.6 229.4M451.0 263.1L464.1 262.2L468.8 268.8L469.8 280.0L475.4 287.5L476.3 302.5L481.0 304.4L487.6 303.4M436.0 272.5L447.2 266.9L451.0 263.1M487.6 266.9L488.5 304.4M488.5 283.8L515.7 281.9M518.5 253.8L515.7 259.4L516.6 304.4M516.6 269.7L527.9 270.6L529.8 274.4L535.4 273.4M456.6 278.1L464.1 280.0L469.8 280.0M445.4 281.9L444.4 291.2L436.0 295.0M75.6 318.6L86.9 317.7L96.2 321.4L103.8 319.6L115.0 322.4L127.2 320.5L128.1 313.0M127.2 320.5L122.5 333.6L120.6 343.9L116.9 346.8M79.4 328.0L86.9 331.8L92.5 335.5L94.4 343.0L101.9 344.9L107.5 347.7L116.9 350.5M70.0 337.4L75.6 339.2L77.5 350.5L74.7 358.0L73.8 365.5M58.8 358.0L64.4 359.9L66.2 367.4L73.8 365.5L81.2 369.2L88.8 369.2L103.8 365.5L110.3 362.7L118.8 357.1M66.2 367.4L68.1 374.9L70.9 382.4L70.0 389.9M86.9 369.2L85.0 390.8M110.3 362.7L107.5 393.6M127.2 320.5L144.1 322.4L145.0 333.6L152.5 339.2L160.0 341.1L169.4 346.8M144.1 322.4L152.5 316.8L161.9 320.5L175.0 327.1L178.8 313.0M120.6 344.9L135.6 346.8L169.4 348.6L175.0 339.2L178.8 313.0M135.6 346.8L132.8 373.9L143.1 375.8L141.2 397.4M169.4 348.6L166.6 375.8L179.7 378.6L177.8 401.1M175.0 338.3L209.7 339.2M209.7 339.2L212.5 329.9L220.0 326.1L227.5 328.0L234.1 331.8M209.7 339.2L205.9 404.9M205.0 329.9L207.8 320.5L210.6 313.0M127.2 399.2L124.4 423.6L126.2 425.5L127.2 448.0M72.8 395.5L70.9 403.0L73.8 410.5L75.6 419.9L85.0 425.5L96.2 416.1L100.0 418.0M100.0 418.0L124.4 423.6M126.2 425.5L158.1 427.4M75.6 419.9L70.0 427.4L68.1 457.4M96.2 416.1L94.4 429.2L88.8 440.5L81.2 448.0L82.2 466.0M81.2 448.0L120.6 448.0L122.5 455.5L116.9 461.1L115.0 466.0M56.9 455.5L68.1 457.4L82.2 459.2M127.2 448.0L131.9 453.6L137.5 455.5L146.9 461.1L150.6 466.0M178.8 403.0L175.9 436.8L174.1 466.0M175.9 436.8L188.1 437.7L190.0 441.4L216.2 444.2L217.2 449.9L225.6 451.8L220.0 466.0M233.1 429.2L231.2 451.8L225.6 451.8M283.0 371.1L283.0 406.8M283.0 371.1L294.2 372.1L299.9 369.2L298.0 363.6L292.4 354.2L290.5 350.5M294.2 372.1L295.2 382.4L309.2 385.2L314.9 384.2L315.8 372.1L294.2 372.1M309.2 385.2L309.2 391.8M322.4 371.1L321.4 388.0L331.8 389.9L331.8 410.5M315.8 372.1L322.4 371.1L331.8 374.9L332.7 367.4L333.6 362.7L340.2 359.9M340.2 344.9L340.2 359.9L354.2 358.9L355.2 352.4M340.2 344.9L355.2 343.9L359.9 333.6L365.5 328.9M338.3 330.8L340.2 344.9M355.2 343.9L369.2 348.6L371.1 358.0L377.7 358.0M354.2 358.9L359.9 365.5L365.5 367.4L367.4 376.8L377.7 377.7M332.7 377.7L367.4 376.8M343.0 378.6L346.8 391.8L343.0 397.4L331.8 400.2M352.4 377.7L353.3 386.1L358.0 391.8L359.9 401.1L354.2 402.1L354.2 410.5M358.0 391.8L369.2 390.8L377.7 395.5M365.5 391.8L366.4 406.8L369.2 410.5M300.8 397.4L300.8 408.6M260.5 337.4L271.8 335.5L281.1 339.2L284.9 345.8L292.4 354.2M281.1 320.5L286.8 318.6L292.4 313.0M281.1 320.5L280.2 329.9L283.0 337.4L284.9 345.8M284.9 345.8L294.2 348.6L301.8 352.4L313.0 358.0L318.6 363.6L322.4 371.1M301.8 317.7L304.6 320.5L309.2 324.2L316.8 329.9L324.2 333.6L326.1 339.2L323.3 350.5L318.6 357.1L316.8 359.9M324.2 338.3L333.6 339.2M249.2 320.5L254.9 331.8L256.8 337.4L260.5 337.4L261.4 356.1L262.4 369.2M238.0 337.4L256.8 337.4M249.2 349.6L261.4 348.6M249.2 349.6L250.2 359.9L253.0 367.4M239.9 341.1L249.2 349.6M261.4 356.1L271.8 350.5L279.2 344.9M242.7 440.5L240.8 466.0M253.9 440.5L255.8 466.0M238.0 440.5L253.9 440.5M306.4 442.4L335.5 442.4M354.2 411.4L355.2 421.8L361.8 423.6L369.2 421.8L370.2 411.4M355.2 429.2L361.8 433.0L369.2 431.1L373.0 434.9L376.8 436.8M359.9 438.6L365.5 442.4L369.2 448.0L367.4 455.5L373.0 457.4L380.5 452.7L391.8 449.9L404.9 448.0M350.5 451.8L359.9 453.6L367.4 455.5L369.2 466.0M352.4 459.2L365.5 461.1M388.9 371.1L391.8 401.1L403.0 402.1M388.9 371.1L396.4 366.4L403.0 363.6L406.8 362.7L412.4 371.1L418.0 378.6L423.6 384.2L427.4 395.5L428.3 401.1L403.0 402.1M403.0 402.1L403.9 442.4M380.5 424.6L403.9 424.6M402.1 346.8L408.6 350.5L414.2 346.8L420.8 350.5L423.6 348.6L436.0 343.0M420.8 350.5L425.5 358.0L436.0 358.0M428.3 401.1L436.0 401.1M405.8 448.9L406.8 466.0M348.6 313.0L352.4 318.6L361.8 322.4L369.2 320.5M451.9 313.0L454.8 318.6L464.1 324.2L468.8 329.9L470.7 335.5L471.6 358.9M467.9 325.2L495.1 321.4M495.1 313.0L497.9 358.0M436.0 339.2L469.8 336.4M436.0 359.9L447.2 360.8L462.2 358.9L471.6 358.9L497.9 357.1L524.1 355.2L542.9 353.3M437.9 343.0L443.5 348.6L456.6 353.3L461.3 358.9M516.6 313.0L519.4 355.2M518.5 332.7L541.0 330.8M462.2 359.9L464.1 374.9L463.2 391.8M497.9 358.0L498.8 391.8M463.2 393.6L497.9 391.8L509.1 390.8L510.1 394.6L516.6 394.6L517.6 386.1L526.0 384.2L545.7 382.4M523.2 355.2L526.9 384.2M532.6 384.2L534.4 416.1M517.6 386.1L519.4 416.1L521.3 436.8M519.4 416.1L534.4 415.2L550.4 414.2M498.8 391.8L500.7 425.5L495.1 427.4L496.0 437.7M436.0 401.1L463.2 399.2L466.0 418.9L454.8 419.9L456.6 440.5M470.7 441.4L469.8 466.0M482.9 440.5L487.6 448.0L488.5 459.2L490.4 466.0M498.8 439.6L505.4 449.9L508.2 455.5L507.2 461.1L490.4 460.2M508.2 455.5L512.9 466.0M528.8 437.7L530.7 459.2L514.8 462.1M563.5 433.9L565.4 448.0L550.4 450.8L551.3 466.0M565.4 448.0L567.2 451.8L585.1 450.8L586.0 434.9M567.2 451.8L568.2 466.0M585.1 450.8L584.1 466.0M586.9 438.6L601.0 437.7M585.1 450.8L602.9 448.0M82.2 466.0L83.1 473.5L77.5 474.4L76.6 486.6L80.3 494.1L64.4 496.9M83.1 473.5L90.6 481.0L103.8 480.1M90.6 481.0L91.6 494.1L80.3 494.1M91.6 494.1L94.4 499.8L96.2 509.1L103.8 510.1L109.4 511.0M80.3 494.1L85.9 503.5L90.6 514.8L86.9 520.4M85.9 503.5L94.4 499.8M96.2 509.1L98.1 520.4M113.1 484.8L120.6 483.8L128.1 478.2L131.9 473.5L141.2 475.4L148.8 473.5L152.5 466.0M113.1 484.8L114.1 494.1L122.5 496.0L126.2 488.5L137.5 487.6L145.0 490.4L150.6 489.4M114.1 494.1L115.9 503.5L124.4 504.4L128.1 499.8L137.5 500.7L145.0 497.9L150.6 499.8M124.4 504.4L125.3 512.9L137.5 513.8L145.0 511.0L150.6 508.2L154.4 501.6M125.3 512.9L126.2 522.2L137.5 520.4L148.8 515.7M148.8 515.7L150.6 508.2M126.2 522.2L135.6 533.5L145.0 526.0L148.8 518.5L160.0 520.4L161.9 512.9L154.4 501.6M135.6 533.5L139.4 540.1L148.8 537.2L160.0 538.2L167.5 537.2L169.4 541.0M160.0 520.4L163.8 527.9L169.4 533.5L169.4 541.0L160.0 550.4L152.5 556.0L145.0 557.9L139.4 540.1M115.0 529.8L115.9 537.2L126.2 536.3L127.2 527.9M111.2 548.5L116.9 554.1L124.4 548.5L131.9 545.7L139.4 542.9M116.9 554.1L115.9 561.6L122.5 569.1L133.8 561.6L145.0 557.9M103.8 561.6L115.0 562.6M105.6 563.5L115.0 574.8L122.5 586.0L128.1 585.1L130.9 579.4L122.5 569.1M128.1 585.1L130.0 591.6L137.5 597.2L146.9 591.6L147.8 584.1M158.1 584.1L157.2 603.8M109.4 600.1L137.5 602.9L171.2 605.7L206.9 608.5L238.0 609.4M137.5 597.2L137.5 602.9L141.2 610.4L146.9 619.0M206.9 608.5L206.9 619.0M161.9 578.5L171.2 576.6L189.1 575.7L193.8 587.9L197.5 597.2L197.5 606.6M180.6 552.2L188.1 567.2L190.0 575.7M171.2 548.5L180.6 552.2L201.2 553.2M163.8 479.1L169.4 482.9L176.9 479.1L178.8 475.4L175.0 469.8L173.1 466.0M160.0 492.2L161.9 484.8L163.8 479.1M156.2 497.9L169.4 498.8L169.4 512.9L161.9 512.9M178.8 501.6L179.7 519.4L171.2 520.4L169.4 512.9M175.0 484.8L182.5 494.1L186.2 499.8L178.8 501.6M186.2 499.8L208.8 500.7L238.0 499.8M208.8 500.7L212.5 490.4L218.1 486.6L217.2 471.6L218.1 466.0M175.0 469.8L217.2 471.6M198.4 502.6L210.6 520.4L222.8 535.4L223.8 544.8L221.9 567.2M210.6 520.4L193.8 538.2M255.8 466.0L256.8 469.8L303.6 470.7M241.8 466.0L239.9 499.8L256.8 500.7M260.5 469.8L259.6 488.5L256.8 494.1L257.7 500.7L266.1 508.2L279.2 516.6L303.6 518.5M279.2 516.6L278.3 537.2L255.8 537.2L254.9 576.6M254.9 576.6L301.8 577.6M254.9 576.6L253.0 601.0M238.0 609.4L256.8 610.4M304.6 478.2L326.1 479.1L343.0 478.2L350.5 476.3L351.4 466.0M304.6 490.4L341.1 490.4L350.5 491.3L351.4 496.0L356.1 496.9L362.7 495.1L363.6 487.6L367.4 482.9L374.9 481.9M350.5 476.3L354.2 481.0L359.9 478.2L362.7 481.9L367.4 482.9M374.9 481.9L373.9 524.1M374.9 481.9L384.2 479.1L406.8 481.0L407.7 466.0M374.9 492.2L429.2 493.2M356.1 496.9L355.2 507.2L373.0 507.2M355.2 507.2L350.5 512.9L349.6 518.5L343.0 522.2L344.9 527.9L346.8 529.8L359.9 530.7L359.9 525.1L373.9 524.1L430.2 524.1M304.6 521.3L320.5 522.2L343.0 522.2M304.6 535.4L343.9 536.3L343.0 544.8L339.2 548.5L339.2 555.1M359.9 530.7L359.9 535.4L431.1 535.4M302.7 552.2L316.8 553.2L324.2 556.9L332.7 556.0L339.2 555.1L384.2 555.6M332.7 556.0L332.7 572.9M374.9 466.0L376.8 473.5L384.2 479.1M341.1 573.8L339.2 591.6M388.0 572.9L388.9 619.0M407.7 572.9L408.6 595.4L414.2 619.0M436.0 484.8L469.8 481.0L479.1 477.2M436.0 495.1L449.1 494.1L469.8 493.2L471.6 499.8M479.1 466.0L479.1 492.2L492.2 493.2L499.8 490.4L501.6 482.9L511.0 479.1M469.8 499.8L470.7 516.6L458.5 518.5L449.1 512.9L447.2 520.4M470.7 516.6L482.9 522.2L483.8 535.4L481.0 539.1M436.0 522.2L447.2 520.4L456.6 527.9L469.8 527.9M454.8 528.8L460.4 535.4L467.9 531.6L469.8 527.9M436.0 534.4L460.4 536.3L469.8 537.2L481.0 539.1L492.2 542.9L496.0 546.6M482.9 522.2L499.8 520.4L501.6 514.8L497.9 509.1M436.0 551.3L458.5 550.4L473.5 550.4L472.6 556.0L492.2 556.9L509.1 556.0M458.5 550.4L454.8 559.8L451.9 569.1M481.0 539.1L481.0 556.0M492.2 542.9L492.2 556.9L497.9 568.2M509.1 544.8L511.0 556.9L518.5 557.9L518.5 568.2M501.6 514.8L511.0 512.9L516.6 527.9L524.1 538.2L529.8 535.4L533.5 526.0L533.5 509.1L524.1 498.8L526.0 497.9L541.0 496.0L556.0 495.1L557.9 503.5L558.8 516.6L559.8 527.9M511.0 512.9L526.0 511.9L535.4 512.9M516.6 527.9L533.5 526.0L535.4 524.1M524.1 538.2L518.5 554.1L511.0 556.9M512.9 473.5L520.4 473.5L522.2 486.6L523.2 496.9M527.9 471.6L529.8 484.8L526.0 496.9M541.0 482.9L565.4 480.1L586.0 478.2L605.7 476.3M541.0 482.9L542.9 496.0M563.5 466.0L565.4 480.1L566.3 499.8M579.4 479.1L580.4 496.0L581.3 510.1L582.2 520.4M557.9 503.5L580.4 500.7L581.3 496.0L606.6 493.2M558.8 516.6L572.9 514.8L609.4 508.2M572.9 514.8L573.8 522.2L575.7 527.9L577.6 541.0M592.6 520.4L593.5 527.9L595.4 540.1M559.8 527.9L575.7 526.9L593.5 527.9L610.4 526.0M559.8 527.9L560.7 541.0L577.6 541.9L595.4 540.1L612.2 539.1M533.5 538.2L541.0 537.2L552.2 538.2L548.5 546.6L542.9 553.2L535.4 556.0L533.5 567.2M552.2 538.2L560.7 541.0M586.0 541.9L587.9 561.6M511.9 568.2L513.8 578.5L514.8 593.5L511.0 597.2M470.7 571.0L469.8 597.2L471.6 601.0M436.0 603.8L469.8 602.9L490.4 595.4L491.3 601.0L503.5 601.9L508.2 601.0M479.1 602.9L481.0 619.0M503.5 601.9L503.5 606.6L508.2 607.6L507.2 601.0M563.5 566.3L565.4 589.8L548.5 590.7L529.8 591.6M529.8 571.0L531.6 591.6L527.9 597.2L524.1 599.1L514.8 593.5M565.4 589.8L567.2 592.6L584.1 593.5L584.1 604.8L593.5 603.8M531.6 591.6L533.5 603.8L556.0 605.7L567.2 603.8L574.8 612.2M584.1 604.8L586.0 614.1M436.0 637.8L450.1 636.8L449.1 626.5L469.8 624.6L481.0 625.6L480.1 619.0M481.0 625.6L485.7 634.9L488.5 638.7L497.9 637.8L509.1 636.8L508.2 627.4L497.9 626.5M483.8 636.8L484.8 647.1L469.8 649.0L436.0 649.9M484.8 647.1L494.1 648.1L503.5 649.0L505.4 637.8M503.5 649.0L506.3 657.4L519.4 657.4L520.4 670.6L516.6 671.5L517.6 677.1L508.2 678.1L509.1 685.6M470.7 649.9L472.6 684.6L464.1 685.6L465.1 694.0L436.0 695.9M472.6 684.6L508.2 683.7L510.1 697.8L484.8 707.1L473.5 712.8M465.1 694.0L468.8 694.9L473.5 707.1L473.5 712.8L460.4 716.5L460.4 739.0M436.0 711.8L447.2 714.6L448.2 716.5L451.0 717.4L451.9 738.1L460.4 738.1M509.1 685.6L526.0 684.6L537.2 687.4L538.2 705.2L539.1 711.8L552.2 711.8M510.1 697.8L511.0 729.6M484.8 707.1L486.6 739.0M522.2 619.0L523.2 631.2L534.4 630.2L535.4 652.8L546.6 651.8L545.7 645.2L557.9 642.4L565.4 638.7L566.3 622.8L578.5 620.9M535.4 652.8L519.4 657.4M546.6 651.8L548.5 662.1L549.4 692.1L538.2 692.1M548.5 662.1L563.5 663.1L574.8 659.3L572.9 643.4L578.5 641.5L586.0 635.9L594.4 630.2M565.4 638.7L572.9 643.4M574.8 659.3L580.4 667.8L581.3 673.4L598.2 673.4M578.5 641.5L579.4 650.9L595.4 649.9M581.3 673.4L579.4 680.9L580.4 694.9L552.2 697.8L553.2 726.8M580.4 694.9L585.1 724.9M238.0 666.8L266.1 666.8L290.5 665.9M238.0 686.5L243.6 687.4L282.1 687.4M243.6 687.4L243.6 712.8M319.6 619.0L319.6 639.6L318.6 731.5M320.5 620.9L331.8 626.5L344.9 630.2L346.8 637.8L361.8 638.7L361.8 644.3L367.4 645.2L367.4 654.6M298.0 660.2L309.2 663.1L318.6 660.2M294.2 688.4L301.8 687.4L302.7 690.2L319.6 690.2M294.2 688.4L293.3 701.5L287.7 701.5M319.6 670.6L339.2 670.6L348.6 674.3L352.4 668.7L369.2 670.6M367.4 654.6L376.8 655.6L388.0 661.2L388.9 669.6L408.6 670.6M367.4 654.6L363.6 658.4L363.6 664.9L369.2 665.9L373.0 677.1L378.6 682.8L384.2 694.0L388.0 701.5M388.9 619.0L388.9 661.2M413.3 619.0L413.3 639.6L410.5 670.6L409.6 682.8M367.4 687.4L378.6 687.4M367.4 687.4L367.4 695.9L359.9 695.9M350.5 695.9L350.5 718.4M319.6 718.4L350.5 718.4L397.4 718.4L436.0 720.2M397.4 690.2L398.3 718.4L398.3 754.9M397.4 690.2L410.5 687.4M422.7 677.1L424.6 697.8L431.1 709.0L433.0 720.2M422.7 677.1L434.9 677.1M378.6 744.6L398.3 742.8M378.6 744.6L378.6 754.9M124.4 628.4L131.9 629.3L139.4 625.6L156.2 633.1L171.2 637.8L205.0 639.2M146.9 619.0L152.5 624.6L156.2 633.1M156.2 633.1L155.3 649.9M171.2 637.8L177.8 654.6L169.4 660.2M205.9 619.0L205.0 639.2L203.1 658.4L198.4 666.8L191.9 669.6M198.4 666.8L203.1 665.9L238.0 666.2M191.9 669.6L195.6 667.8L201.2 668.7L207.8 676.2L205.9 682.8L203.1 685.6M207.8 682.8L214.4 684.6L238.0 685.6"/>
</g>
<g fill="none" stroke="#1e90ff" stroke-width="2" stroke-linejoin="round" stroke-linecap="round" clip-path="url(#land)">
<path d="M231.2 179.7L225.6 188.1L221.9 197.5L222.8 205.0L216.2 209.7L215.3 214.4L208.8 211.6L204.1 209.7L203.1 205.0L190.0 205.0L183.4 205.9L178.8 212.5L174.1 220.0L173.1 224.7L177.8 229.4L178.8 235.0L178.8 248.1L181.6 251.9L189.1 250.9L191.9 255.6L193.8 263.1L198.4 266.9L199.0 272.5M199.0 266.9L205.0 262.2L208.8 256.6L218.1 256.6L225.6 254.7L231.2 256.6L238.0 261.2M111.2 278.1L112.2 285.6L103.8 287.5L100.9 295.0L98.1 302.5L95.3 313.0M240.8 181.6L240.8 191.9L243.6 203.1L249.2 206.9L256.8 204.1L262.4 205.0L267.1 210.6L275.5 218.1L283.0 227.5L288.6 233.1L294.2 235.0L299.9 236.9L303.6 235.0M304.6 184.4L309.2 193.8L310.2 203.1L307.4 210.6L310.2 216.2L309.2 223.8L303.6 229.4L304.6 235.0M288.6 236.9L292.4 242.5L299.9 248.1L309.2 251.9L318.6 256.6L326.1 257.5L333.6 261.2L339.2 266.9L339.2 276.2L343.0 281.9L344.9 285.6M436.0 226.6L425.5 221.9L416.1 221.9L406.8 224.7L399.2 220.0L395.5 214.4L388.0 218.1L378.6 225.6L369.2 233.1L359.9 242.5L356.1 248.1L358.0 255.6L365.5 265.0L368.3 276.2L367.4 289.4L363.6 298.8L361.8 313.0M380.5 313.0L382.4 304.4L389.9 291.2L401.1 284.7L412.4 289.4L423.6 291.2L436.0 285.6M436.0 227.5L445.4 227.5L449.1 224.7L458.5 222.8L466.0 221.9L473.5 216.2L477.2 210.6L492.2 208.8L507.2 205.9L516.6 204.6L527.9 205.9M478.2 212.5L481.0 220.0L482.9 226.6M528.8 214.4L526.0 223.8L518.5 233.1L514.8 242.5L507.2 247.2L499.8 253.8L492.2 262.2L488.5 265.9L477.2 267.8L464.1 266.9L456.6 272.5L447.2 276.2L436.0 281.9M458.5 270.6L455.7 280.0L454.8 291.2L447.2 302.5L441.6 310.0M94.4 313.0L96.2 324.2L103.8 331.8L109.4 339.2L110.3 345.8L115.0 349.6M62.5 404.9L68.1 416.1L73.8 412.4L73.8 404.9L80.3 397.4L86.9 399.2L96.2 399.2L103.8 396.4L111.2 394.6L116.9 393.6L118.8 389.9L116.9 382.4L118.8 377.7L122.5 377.7L126.2 382.4L137.5 385.2L144.1 388.0M103.8 466.0L101.9 451.8L97.2 442.4L98.1 434.9L103.8 435.8L109.4 433.0L111.2 429.2L118.8 430.2L126.2 428.3L128.1 433.0L131.9 423.6L133.8 418.9L145.0 417.1L146.9 423.6L152.5 425.5L156.2 427.4M98.1 434.9L100.0 425.5L103.8 419.9L100.9 418.0M238.0 353.3L243.6 359.9L249.2 367.4L256.8 374.9L262.4 378.6L273.6 377.7L281.1 378.6L286.8 386.1L294.2 389.9L305.5 393.6L316.8 391.8L324.2 388.9L331.8 389.9L339.2 382.4L346.8 371.1L352.4 363.6L354.2 354.2L359.9 353.3L369.2 359.9L376.8 369.2M380.5 373.0L386.1 367.4L388.0 359.9L386.1 352.4L388.0 344.9L393.6 341.1L395.5 333.6L391.8 328.0L393.6 320.5L391.8 314.9M361.8 313.0L369.2 318.6L378.6 322.4L386.1 322.4M359.9 410.5L358.0 401.1L359.9 393.6L365.5 389.9L369.2 393.6L373.0 401.1L377.7 406.8L380.5 414.2L378.6 423.6L382.4 436.8L384.2 448.0M354.2 412.4L356.1 416.1L352.4 421.8L353.3 427.4M401.1 346.8L403.0 356.1L410.5 361.8L421.8 367.4L436.0 373.0M403.0 367.4L401.1 376.8L403.0 388.0L401.1 397.4L403.0 406.8L408.6 416.1L418.0 427.4L416.1 436.8L414.2 444.2L425.5 446.1L431.1 451.8L429.2 457.4L423.6 461.1L418.0 466.0M427.4 395.5L436.0 397.4M442.6 313.0L445.4 322.4L451.0 335.5L450.1 344.9L445.4 348.6L446.3 359.9L445.4 371.1L442.6 375.8L436.0 373.9M436.0 396.4L443.5 393.6L451.0 388.9L458.5 390.8L466.0 393.6L477.2 390.8L483.8 388.0L486.6 381.4L492.2 377.7L501.6 377.7L512.9 376.8L514.8 382.4L522.2 384.2L526.0 389.9L533.5 395.5L546.6 401.1M104.7 466.0L105.6 473.5L102.8 482.9L104.7 490.4L109.4 501.6L113.1 509.1L112.2 518.5L109.4 522.2M115.0 527.9L115.9 535.4L120.6 544.8L128.1 556.0L135.6 563.5L137.5 571.0L145.0 580.4L152.5 584.1L159.1 582.2L160.0 574.8L163.8 569.1L171.2 569.1L182.5 573.8L189.1 575.7M137.5 571.0L145.0 569.1L152.5 568.2L160.0 561.6L165.6 556.0L169.4 550.4L171.2 544.8L169.4 541.9L173.1 543.8L172.2 548.5M418.0 466.0L410.5 475.4L405.8 484.8L405.8 496.0L403.0 505.4L403.9 516.6L407.7 526.0L410.5 530.7M436.0 500.7L429.2 503.5L423.6 512.9L416.1 520.4L412.4 527.9L408.6 533.5L401.1 541.0L395.5 546.6L389.9 556.0L384.2 565.4L376.8 571.0L369.2 572.9L363.6 580.4L358.9 589.8L360.8 601.0L358.0 603.8L350.5 601.9L341.1 593.5L331.8 595.4L320.5 604.8L319.6 612.2L313.0 610.4L307.4 602.9L302.7 599.1L298.0 604.8L292.4 601.0L281.1 601.0M294.2 588.8L293.3 597.2L292.4 601.0M508.2 466.0L497.9 469.8L488.5 474.4L482.9 477.2L477.2 484.8L467.9 487.6L458.5 488.5L451.0 494.1L449.1 499.8L443.5 504.4L436.0 501.6M496.0 495.1L501.6 503.5L505.4 511.0L507.2 516.6L514.8 522.2L522.2 519.4L529.8 520.4L537.2 523.2L548.5 525.1L559.8 526.0L571.0 529.8L582.2 526.9L595.4 525.1L609.4 526.0M469.8 544.8L475.4 546.6L482.9 542.9L492.2 546.6L503.5 546.6L512.9 550.4L516.6 556.0L517.6 567.2L518.5 578.5L518.5 589.8L512.9 597.2L509.1 606.6L503.5 619.0M542.9 568.2L548.5 568.2L552.2 574.8L550.4 582.2L554.1 591.6L557.9 601.0L557.9 608.5L565.4 616.0L578.5 616.9L591.6 615.1M526.0 601.0L523.2 610.4L527.9 619.0M503.5 619.0L497.9 626.5L496.0 641.5L495.1 650.9L493.2 662.1L495.1 673.4L490.4 680.9L486.6 690.2L483.8 699.6L484.8 709.0L492.2 712.8L497.9 722.1L503.5 729.6M459.4 679.0L460.4 688.4L458.5 695.9L452.9 698.7L449.1 703.4L447.2 709.0L441.6 712.8L436.0 710.9M527.9 619.0L533.5 624.6L542.9 625.6L550.4 629.3L554.1 637.8L559.8 642.4L565.4 649.0L565.4 656.5L563.5 664.0L563.5 673.4L561.6 680.9L565.4 690.2L566.3 707.1L563.5 709.0L571.0 714.6L576.6 720.2L576.6 725.9M583.2 641.5L595.4 642.4M589.8 632.1L594.4 633.1M568.2 619.0L576.6 619.9M288.6 709.9L294.2 711.8L303.6 709.9L313.0 706.2L320.5 702.4L328.0 699.6L335.5 702.4L334.6 693.1L339.2 691.2L350.5 690.2L359.9 687.4L369.2 684.6L376.8 682.8L380.5 679.9L388.0 680.9L393.6 675.2L401.1 677.1L408.6 682.8L416.1 685.6L421.8 680.9L427.4 675.2M348.6 692.1L358.0 697.8L369.2 701.5L376.8 698.7L382.4 699.6L388.0 702.4L393.6 697.8L401.1 694.9L406.8 697.8L414.2 705.2L419.9 706.2L425.5 702.4L431.1 703.4L434.9 710.9"/>
</g>
<g fill="none" stroke="#000" stroke-width="2.2" stroke-linejoin="round" stroke-linecap="round">
<path d="M247.8 180.1L246.9 193.9L246.1 207.7L245.2 221.5L244.3 235.4L243.5 249.3L242.6 263.1L244.0 270.4L244.5 276.9M86.9 253.8L94.4 252.8L101.9 254.7L108.4 259.4L110.9 265.0L111.2 275.3L120.6 278.5L131.9 277.2L141.2 279.1L152.5 280.0L160.0 277.8L171.2 278.5L182.5 276.2L190.0 274.8L206.9 274.3L216.3 275.0L225.7 275.7L235.1 276.3L244.5 276.9M244.5 276.9L246.4 281.9L252.1 289.4L253.9 294.1L249.2 302.5L245.5 309.1L243.6 313.0L241.8 320.5L238.9 328.0L238.0 333.6L237.4 354.5L236.6 367.5L235.8 380.5L235.1 393.5L234.3 406.5M61.4 389.1L73.1 390.8L84.8 392.3L96.5 393.8L108.2 395.2L119.9 396.6L131.7 397.9L143.4 399.1L155.1 400.3L166.9 401.4L178.6 402.4L190.4 403.4L202.1 404.3L213.9 405.2L225.7 405.9L237.5 406.7L249.2 407.3L261.0 407.9L272.8 408.4L284.6 408.9L296.4 409.3L308.2 409.6L320.0 409.9L331.8 410.1L343.6 410.2L355.4 410.3L367.2 410.3L379.0 410.2M162.6 401.0L161.1 417.2L159.6 433.4L158.1 449.6L156.6 465.9L155.1 482.1L153.5 498.3L284.9 636.9M306.6 409.6L306.2 425.3L305.7 441.0L305.3 456.8L304.9 472.5L304.4 488.3L304.0 504.0L303.6 519.7L303.2 535.5L302.7 551.2L302.3 566.9L301.9 582.6L301.4 598.4L301.8 597.2L294.2 601.0L283.0 601.0L283.9 608.5L284.9 619.0L284.9 626.5L284.9 635.9M284.9 635.9L288.6 643.4L291.4 651.8L298.0 659.3L292.4 664.9L288.6 669.6L286.8 680.9L282.1 688.4L282.1 699.6L287.7 701.5L288.6 709.0L278.3 715.6M268.9 182.1L268.9 206.9L266.1 212.5L270.8 220.0L273.6 227.5L278.3 235.0L284.9 242.5L290.5 250.0L296.1 255.6L302.7 258.4L301.8 265.0L299.9 276.2L300.8 287.5L298.0 291.2L302.7 295.9L309.2 291.2L313.0 289.4L314.9 295.0L317.7 302.5L321.4 310.0L322.4 313.0L328.0 318.6L331.8 324.2L332.7 330.8L337.4 330.8L350.5 328.9L361.8 328.0L369.2 326.1L372.1 321.4L376.8 328.9L378.6 329.9M378.2 312.7L378.3 328.9L378.5 345.2L378.6 361.4L378.7 377.7L378.8 394.0L379.0 410.2L379.1 426.5L379.2 442.8M378.2 312.7L389.8 312.6L401.3 312.4L412.9 312.1L424.4 311.8L436.0 311.4L447.5 311.0L459.1 310.5L470.6 309.9L482.1 309.3L493.7 308.6L505.2 307.8L516.7 307.0L528.3 306.1L539.8 305.1M379.2 442.8L391.5 442.7L403.8 442.5L416.1 442.2L428.3 441.9L440.6 441.5L452.9 441.0L465.2 440.5L477.4 439.8L489.7 439.2L502.0 438.4L514.2 437.6L526.5 436.7L538.7 435.8L551.0 434.7M428.3 441.9L428.8 457.6L429.3 473.4L429.8 489.1L430.2 504.9L430.7 520.6L431.2 536.3L431.7 552.1L432.1 567.8L432.6 583.5L433.1 599.2L433.5 614.9L434.0 630.6L434.5 646.3L435.0 662.0L435.4 677.7L435.9 693.3L436.4 708.9L436.8 724.6L437.3 740.2L437.8 755.8M302.1 572.3L314.6 572.6L327.1 572.9L339.6 573.0L352.1 573.1L364.6 573.1L377.1 573.1L389.7 573.0L402.2 572.8L414.7 572.6L427.2 572.2L439.7 571.9L452.2 571.4L464.7 570.9L477.2 570.3L489.7 569.7L502.1 568.9L514.6 568.1L527.1 567.3L539.6 566.4L552.0 565.4L564.5 564.3L577.0 563.2L589.4 562.0"/>
<path d="M124.2 168.7L134.8 170.0L145.4 171.2L156.0 172.4L166.6 173.5L177.2 174.6L187.8 175.6L198.5 176.5L209.1 177.4L219.7 178.2L230.4 179.0L241.0 179.7L251.7 180.3L262.3 180.9L273.0 181.4L283.6 181.9L294.3 182.3L304.9 182.6L315.6 182.9L326.2 183.2L336.9 183.3L347.6 183.5L358.2 183.5L368.9 183.5L379.6 183.4L390.2 183.3L400.9 183.1L411.5 182.9L422.2 182.6L432.9 182.2L443.5 181.8L454.2 181.3L464.8 180.8L475.5 180.2L486.1 179.6L496.7 178.8L507.4 178.1L518.0 177.2L528.6 176.3L528.6 176.3L530.0 192.4L531.4 208.4L532.8 224.5L534.2 240.6L535.6 256.7L537.0 272.8L538.4 288.9L539.8 305.1L541.2 321.3L542.6 337.5L544.0 353.7L545.4 369.9L546.8 386.1L548.2 402.3L549.6 418.5L551.0 434.7L551.0 434.7L563.2 433.6L575.4 432.5L587.7 431.3L599.9 430.0L599.9 430.0L601.7 446.1L603.5 462.3L605.3 478.5L607.1 494.7L608.9 510.9L610.7 527.1L612.5 543.3L614.3 559.4L614.3 559.4L601.8 560.8L589.4 562.0L589.4 562.0L590.8 578.2L592.3 594.4L593.7 610.6L595.1 626.8L596.6 642.9L598.0 659.1L599.4 675.2L600.8 691.3L602.2 707.4L603.6 723.5L603.6 723.5L591.3 724.7L578.9 725.8L566.6 726.9L554.2 727.9L541.9 728.8L529.5 729.7L517.1 730.5L504.8 731.2L507.7 738.1L507.7 738.1L496.0 738.8L484.2 739.4L472.5 740.0L460.8 740.4L460.8 740.4L461.4 754.9L461.4 754.9L448.0 755.4L434.6 755.9L421.2 756.2L407.8 756.5L394.4 756.7L381.0 756.8L277.3 718.0L280.0 710.6L214.4 713.7L211.0 709.0L211.6 697.8L208.8 693.1L203.1 686.5L195.6 679.0L188.1 672.4L183.4 673.4L182.5 669.6L178.8 663.1L171.2 663.1L163.8 659.3L160.0 654.6L154.4 649.0L145.0 648.1L137.5 645.2L127.2 645.2L122.5 641.5L124.8 635.9L123.4 630.2L124.4 621.8L118.8 619.0L119.7 619.0L118.8 614.1L113.1 608.5L109.4 601.0L104.7 597.2L101.9 589.8L96.2 582.2L95.3 572.9L100.0 567.2L96.2 561.6L90.6 557.9L85.0 550.4L84.1 537.2L83.1 524.1L74.7 520.4L73.8 512.9L68.1 505.4L62.5 497.9L58.8 488.5L57.8 475.4L58.8 466.0L58.8 466.0L57.8 457.4L53.1 451.8L48.4 446.1L47.5 438.6L51.2 431.1L55.9 421.8L58.8 410.5L60.6 401.1L59.7 395.5L58.8 388.0L56.9 378.6L55.9 369.2L56.9 359.9L60.6 350.5L62.5 344.9L68.1 337.4L70.0 331.8L72.8 322.4L74.7 313.0L74.7 313.0L76.6 304.4L79.4 295.0L82.2 283.8L84.1 272.5L85.9 261.2L86.9 253.8L85.0 250.0L85.9 240.6L86.9 235.0L86.9 227.5L85.9 221.9L84.1 214.4L83.1 200.3L79.8 196.6L79.4 188.1L80.3 179.7L85.0 180.6L94.4 188.1L103.8 190.9L112.2 192.8L115.0 194.7L120.6 192.8L123.4 188.1L125.3 178.8L125.3 167.9Z"/>
</g>
<g fill="#000" stroke="#000" stroke-width="1" stroke-linejoin="round">
<path d="M125.3 167.9L126.2 175.0L131.9 175.9L131.9 184.4L128.1 188.1L130.9 192.8L131.9 199.4L133.8 201.2L130.9 204.1L129.1 208.8L129.1 218.1L126.2 223.8L118.8 225.6L115.0 228.4L111.2 227.5L110.3 223.8L114.1 220.9L109.4 219.1L112.2 214.4L116.9 208.8L118.8 203.1L116.9 199.4L115.9 194.7L120.6 192.8L123.4 188.1L122.5 184.4L118.8 184.4L115.0 181.6L114.6 175.9L119.7 173.1L123.4 174.1Z"/>
<path d="M118.4 166.0L121.0 166.0L121.0 167.9L118.4 167.9Z"/>
<path d="M87.8 523.4L101.9 524.3L114.6 526.0L114.6 528.1L101.9 527.1L87.8 526.0Z"/>
<path d="M85.0 522.2L88.0 522.2L88.4 529.8L90.6 535.8L95.9 542.1L94.0 543.8L89.1 539.5L86.1 534.4L84.6 527.9Z"/>
<path d="M89.1 530.7L91.6 531.6L92.1 535.0L90.2 534.4Z"/>
<path d="M127.2 658.4L133.8 659.9L137.5 661.2L143.1 659.3L152.5 660.6L157.2 661.8L152.5 663.6L141.2 664.0L135.6 664.4L131.9 662.5Z"/>
<path d="M147.8 686.1L151.6 685.0L153.8 687.4L150.6 688.8L148.4 688.0Z"/>
<path d="M162.8 679.9L164.7 679.9L164.7 681.8L162.8 681.8Z"/>
<path d="M176.9 680.5L179.7 679.9L184.4 686.5L182.5 687.6L178.8 686.9Z"/>
<path d="M174.1 696.2L176.5 695.5L181.6 700.6L181.0 703.4L177.8 703.0L175.0 699.6Z"/>
<path d="M86.0 226.2L89.1 225.6L91.0 228.1L93.5 228.8L91.6 230.6L89.1 230.0L87.9 232.5L86.0 231.2Z"/>
<path d="M86.6 236.2L89.1 235.6L90.4 238.1L92.9 238.8L91.0 240.6L89.1 240.0L88.5 243.1L89.8 246.2L87.2 246.9L86.0 242.5Z"/>
<path d="M84.1 249.4L87.2 248.1L89.1 251.9L92.9 253.1L91.0 255.0L88.5 254.4L87.9 258.1L85.4 257.5L84.8 253.8Z"/>
</g>
</g>
<!-- PANEL -->
<g id="titles" font-family="'Liberation Sans', Arial, sans-serif" fill="#000">
  <text x="331.4" y="52.3" font-size="26.4" font-weight="bold" font-style="italic" text-anchor="middle">U.S. Drought Monitor</text>
  <text x="330.5" y="102.4" font-size="41.5" font-weight="bold" text-anchor="middle">West</text>
  <text x="849.5" y="57.5" font-size="26.67" font-weight="bold" text-anchor="middle">April 14, 2026</text>
  <text x="851" y="81" font-size="16" font-weight="bold" font-style="italic" text-anchor="middle">(Released Thursday, Apr. 16, 2026)</text>
  <text x="849.5" y="104" font-size="16" font-weight="bold" text-anchor="middle">Valid 8 a.m. EDT</text>
  <text x="894.3" y="138" font-size="13.8" letter-spacing="0.3" font-style="italic" text-anchor="middle">Drought Conditions (Percent Area)</text>
</g>
<g id="table" font-family="'Liberation Sans', Arial, sans-serif">
  <rect x="767" y="146" width="43.4" height="26" fill="#fff"/>
  <rect x="810.4" y="146" width="43.4" height="26" fill="#ffff00"/>
  <rect x="853.8" y="146" width="43.4" height="26" fill="#fcd37f"/>
  <rect x="897.2" y="146" width="43.4" height="26" fill="#ffaa00"/>
  <rect x="940.6" y="146" width="43.4" height="26" fill="#e60000"/>
  <rect x="984" y="146" width="43" height="26" fill="#730000"/>
  <g stroke="#000" stroke-width="1" fill="none" shape-rendering="crispEdges">
    <path d="M810.5 146V431M853.5 146V431M897.5 146V431M940.5 146V431M984.5 146V431"/>
    <path d="M672 215.5H1027M672 258.5H1027M672 302.5H1027M672 345.5H1027M672 388.5H1027"/>
  </g>
  <g stroke="#000" stroke-width="2" fill="none" shape-rendering="crispEdges">
    <path d="M766 146H1028M767 145V432M1027 145V432M671 172H1028M672 171V432M671 431H1028"/>
  </g>
  <g font-size="12" text-anchor="middle" fill="#000">
    <text x="789" y="164">None</text>
    <text x="832" y="164">D0-D4</text>
    <text x="875.5" y="164">D1-D4</text>
    <text x="919" y="164">D2-D4</text>
    <text x="962.5" y="164" fill="#fff">D3-D4</text>
    <text x="1005.5" y="164" fill="#fff">D4</text>
  </g>
  <g font-size="12" text-anchor="middle" fill="#000">
    <text y="198"><tspan x="789">9.74</tspan><tspan x="832">90.26</tspan><tspan x="875.5">66.59</tspan><tspan x="919">39.09</tspan><tspan x="962.5">14.21</tspan><tspan x="1005.5">2.48</tspan></text>
    <text y="242"><tspan x="789">9.74</tspan><tspan x="832">90.26</tspan><tspan x="875.5">65.86</tspan><tspan x="919">35.38</tspan><tspan x="962.5">12.74</tspan><tspan x="1005.5">2.22</tspan></text>
    <text y="285"><tspan x="789">40.36</tspan><tspan x="832" dy="1">59.64</tspan><tspan x="875.5" dy="-1">34.52</tspan><tspan x="919">13.34</tspan><tspan x="962.5">0.94</tspan><tspan x="1005.5">0.07</tspan></text>
    <text y="329"><tspan x="789">40.61</tspan><tspan x="832">59.39</tspan><tspan x="875.5">36.26</tspan><tspan x="919">14.36</tspan><tspan x="962.5">1.16</tspan><tspan x="1005.5">0.06</tspan></text>
    <text y="372"><tspan x="789">18.15</tspan><tspan x="832">81.85</tspan><tspan x="875.5">64.82</tspan><tspan x="919">44.12</tspan><tspan x="962.5">12.00</tspan><tspan x="1005.5">0.69</tspan></text>
    <text y="415"><tspan x="789">34.54</tspan><tspan x="832">65.46</tspan><tspan x="875.5">49.38</tspan><tspan x="919">30.54</tspan><tspan x="962.5">14.12</tspan><tspan x="1005.5">1.88</tspan></text>
  </g>
  <g font-size="12" font-weight="bold" text-anchor="middle" fill="#000">
    <text x="719" y="198">Current</text>
    <text x="719" y="235">Last Week</text>
    <text x="719" y="279">3 Months Ago</text>
    <text x="719" y="316">Start of</text>
    <text x="719" y="330">Calendar Year</text>
    <text x="719" y="359">Start of</text>
    <text x="719" y="373">Water Year</text>
    <text x="719" y="409">One Year Ago</text>
  </g>
  <g font-size="9.33" font-style="italic" text-anchor="middle" fill="#000">
    <text x="719" y="248.5">04-07-2026</text>
    <text x="719" y="292.5">01-13-2026</text>
    <text x="719" y="340">01-06-2026</text>
    <text x="719" y="384.5">09-30-2025</text>
    <text x="719" y="422.5">04-15-2025</text>
  </g>
</g>
<g id="legend" font-family="'Liberation Sans', Arial, sans-serif" fill="#000">
  <text x="672" y="460" font-size="16" font-style="italic" text-decoration="underline">Intensity:</text>
  <g stroke="#6e6e6e" stroke-width="1" shape-rendering="crispEdges">
    <rect x="672.5" y="470.5" width="33" height="17" fill="#fff"/>
    <rect x="672.5" y="495.5" width="33" height="17" fill="#ffff00"/>
    <rect x="672.5" y="520.5" width="33" height="17" fill="#fcd37f"/>
    <rect x="854.5" y="470.5" width="33" height="17" fill="#ffaa00"/>
    <rect x="854.5" y="495.5" width="33" height="17" fill="#e60000"/>
    <rect x="854.5" y="520.5" width="33" height="17" fill="#730000"/>
  </g>
  <g font-size="13.33">
    <text x="711" y="484">None</text>
    <text x="711" y="509">D0 Abnormally Dry</text>
    <text x="711" y="533.5">D1 Moderate Drought</text>
    <text x="892" y="484">D2 Severe Drought</text>
    <text x="892" y="509">D3 Extreme Drought</text>
    <text x="892" y="533.5">D4 Exceptional Drought</text>
  </g>
  <g font-size="12.5" font-style="italic">
    <text x="672" y="565">The Drought Monitor focuses on broad-scale conditions.</text>
    <text x="672" y="579.4">Local conditions may vary. For more information on the</text>
    <text x="672" y="594">Drought Monitor, go to https://droughtmonitor.unl.edu/About.aspx</text>
  </g>
  <text x="672" y="631" font-size="16" font-style="italic" text-decoration="underline">Author:</text>
  <text x="672" y="650.2" font-size="14.67">Brian Fuchs</text>
  <text x="672" y="669.2" font-size="14.67">National Drought Mitigation Center</text>
  <text x="853.5" y="787" font-size="21.33" font-weight="bold" text-anchor="middle">droughtmonitor.unl.edu</text>
</g>
<!-- LOGOS -->
<g id="logos">
  <!-- USDA -->
  <g>
    <text x="672.5" y="726" font-family="'Liberation Serif', 'Times New Roman', serif" font-size="23.5" fill="#1b2d6b" textLength="58" lengthAdjust="spacingAndGlyphs">USDA</text>
    <path d="M673 732 C690 729.5 710 728.8 730 728.6 V749 H673 Z" fill="#1c5b3d"/>
    <path d="M673 735.2 C690 731.8 712 730.6 730 730.6 V732.2 C712 732.2 690 733.6 673 737.4 Z" fill="#fff"/>
    <path d="M673 739.4 C686 735.4 700 733.8 712 733.2 V734.4 C700 735.2 686 737.2 673 741.6 Z" fill="#fff"/>
  </g>
  <!-- NDMC -->
  <g>
    <defs>
      <path id="ndmcTop" d="M744.3 729 A25.5 25.5 0 0 1 795.3 729"/>
      <path id="ndmcBot" d="M741.6 729 A28.2 28.2 0 0 0 798 729"/>
      <clipPath id="ndmcClip"><circle cx="769.8" cy="729" r="24"/></clipPath>
    </defs>
    <circle cx="769.8" cy="729" r="29" fill="#fff"/>
    <g clip-path="url(#ndmcClip)">
      <rect x="745" y="704" width="50" height="50" fill="#3b5a2a"/>
      <path d="M745 738 C752 734 758 742 766 738 C773 734 780 742 795 737 V754 H745 Z" fill="#7583cf"/>
      <path d="M745 744 C753 740 760 748 768 743 C776 739 784 746 795 742 V754 H745 Z" fill="#3a2114"/>
      <path d="M752 749 L760 745 L768 750 L778 745 L788 748" stroke="#fff" stroke-width="0.7" fill="none"/>
    </g>
    <text x="769.8" y="731" font-family="'Liberation Sans', Arial, sans-serif" font-size="16.5" font-weight="bold" fill="#fff" text-anchor="middle" textLength="37" lengthAdjust="spacingAndGlyphs">NDMC</text>
    <text font-family="'Liberation Sans', Arial, sans-serif" font-size="3.6" font-weight="bold" fill="#2a1a12" letter-spacing="0.1"><textPath href="#ndmcTop" startOffset="50%" text-anchor="middle">NATIONAL DROUGHT MITIGATION CENTER</textPath></text>
    <text font-family="'Liberation Sans', Arial, sans-serif" font-size="3.6" font-weight="bold" fill="#2a1a12" letter-spacing="0.2"><textPath href="#ndmcBot" startOffset="50%" text-anchor="middle">UNIVERSITY OF NEBRASKA</textPath></text>
  </g>
  <!-- Department of Commerce -->
  <g>
    <defs>
      <path id="docTop" d="M814.5 730.2 A23.6 23.6 0 0 1 861.7 730.2"/>
      <path id="docBot" d="M811.8 728.4 A26.3 26.3 0 0 0 864.4 728.4"/>
    </defs>
    <circle cx="838.1" cy="729" r="28.2" fill="#1b8ad3" stroke="#1d4f91" stroke-width="0.8"/>
    <circle cx="838.1" cy="729" r="27.3" fill="none" stroke="#fff" stroke-width="0.7"/>
    <circle cx="838.1" cy="729" r="21.8" fill="#fff"/>
    <text font-family="'Liberation Sans', Arial, sans-serif" font-size="4" font-weight="bold" fill="#fff"><textPath href="#docTop" startOffset="50%" text-anchor="middle">DEPARTMENT OF COMMERCE</textPath></text>
    <text font-family="'Liberation Sans', Arial, sans-serif" font-size="4" font-weight="bold" fill="#fff"><textPath href="#docBot" startOffset="50%" text-anchor="middle">UNITED STATES OF AMERICA</textPath></text>
    <path d="M829.5 710 L834 716 L836.5 713 L838.1 717 L839.7 713 L842.2 716 L846.7 710 L844.5 718.5 L841 722.5 H835.2 L831.7 718.5 Z" fill="#e9b92d" stroke="#1a1a1a" stroke-width="0.7"/>
    <path d="M825 724.5 H851.2 V733.8 H825 Z" fill="#1b8ad3" stroke="#1a1a1a" stroke-width="0.6"/>
    <path d="M825 733.8 H851.2 V741.5 Q851 746 838.1 749.2 Q825.2 746 825 741.5 Z" fill="#f4c63d" stroke="#1a1a1a" stroke-width="0.6"/>
    <path d="M829 731.5 L833 727 L838 729.5 L842 726.5 L847 731.5 Z" fill="#1a1a1a"/>
    <path d="M838.1 733.8 V748" stroke="#1a1a1a" stroke-width="1.2"/>
    <path d="M833.5 738 h2.5 v5 h-2.5 z M841 738 h2.5 v5 h-2.5 z" fill="#1a1a1a" opacity="0.55"/>
  </g>
  <!-- NOAA -->
  <g>
    <defs><clipPath id="noaaClip"><circle cx="905.8" cy="729" r="29"/></clipPath></defs>
    <g clip-path="url(#noaaClip)">
      <rect x="876" y="699" width="60" height="60" fill="#1d95dc"/>
      <path d="M876 699 H936 V716 L908 740 L904 740 L876 718 Z" fill="#1b1d8c"/>
      <path d="M874 716 C884 722 896 731 906.5 733.5 C916 727 926 718 938 711 L938 717 C928 726 919 736 911 741 C905 742 899 741 896 740 C890 735 882 728 874 723 Z" fill="#fff"/>
      <path d="M897 741.5 C905 738 916 734 925 732.5 C918 736 909 740.5 901 743 Z" fill="#fff"/>
    </g>
    <text x="905.8" y="719.4" font-family="'Liberation Sans', Arial, sans-serif" font-size="11" font-weight="bold" fill="#fff" text-anchor="middle" textLength="24" lengthAdjust="spacingAndGlyphs">NOAA</text>
  </g>
  <!-- NASA -->
  <g>
    <circle cx="972.5" cy="729" r="29" fill="#1c3ca6"/>
    <ellipse cx="974" cy="728" rx="21" ry="9" fill="none" stroke="#fff" stroke-width="0.6" transform="rotate(-62 974 728)"/>
    <g fill="#fff"><circle cx="958" cy="712" r="0.7"/><circle cx="964" cy="708" r="0.6"/><circle cx="986" cy="716" r="0.6"/><circle cx="960" cy="747" r="0.7"/><circle cx="990" cy="742" r="0.7"/><circle cx="981" cy="750" r="0.6"/><circle cx="952" cy="738" r="0.6"/></g>
    <path d="M939 737.5 C960 733 990 720 1009.5 703.5 C996 722 975 738 948 754.5 C966 741 984 727 996 714 C978 726 958 734 939 737.5 Z" fill="#e3122f"/>
    <text x="973" y="734" font-family="'Liberation Sans', Arial, sans-serif" font-size="13.5" font-weight="bold" fill="#fff" text-anchor="middle" textLength="49" lengthAdjust="spacingAndGlyphs">NASA</text>
    <path d="M957 733.5 C966 731.5 975 728 984 723" stroke="#e3122f" stroke-width="1.6" fill="none"/>
  </g>
</g>
</svg>
</body></html>
